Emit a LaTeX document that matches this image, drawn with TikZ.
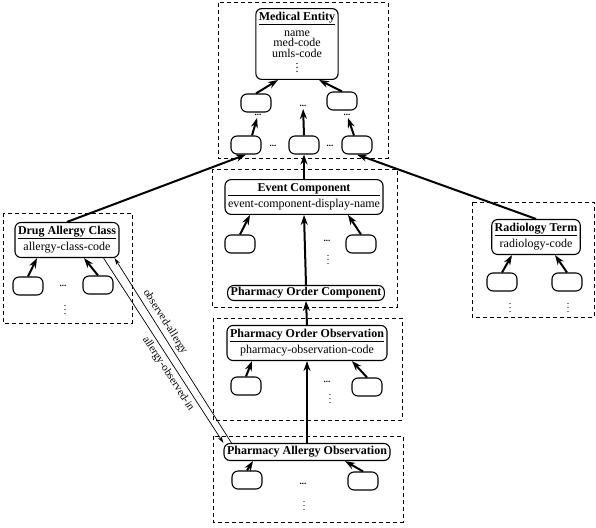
\documentclass[tikz,border=0pt]{standalone}
\usepackage{fontspec}
\setmainfont{Liberation Serif}
\usetikzlibrary{arrows.meta}
\newcommand{\clsbox}[2]{\begin{tabular}{@{}c@{}}\textbf{#1}\rule[-4pt]{0pt}{12pt}\\\hline\rule{0pt}{12pt}#2\end{tabular}}
\begin{document}
\begin{tikzpicture}[x=1pt, y=-1pt,
  cls/.style = {draw, rounded corners=6pt, line width=1.1pt, inner xsep=3pt, inner ysep=3.5pt, font=\fontsize{12}{11}\selectfont},
  leaf/.style = {draw, rounded corners=6pt, line width=1.1pt, minimum width=30pt, minimum height=18pt, inner sep=0pt},
  dots/.style = {inner sep=2pt, font=\bfseries\fontsize{9}{9}\selectfont},
  vdt/.style = {inner sep=0pt, font=\fontsize{10}{10}\selectfont},
  grp/.style = {draw, line width=1pt, dash pattern=on 4pt off 3pt},
  isa/.style = {-{Stealth[length=10pt,width=7pt]}, line width=2pt},
  rel/.style = {-{Stealth[length=7pt,width=4pt]}, line width=0.7pt}]
\useasboundingbox (0,0) rectangle (596,527);

% groups
\draw[grp] (218,3) rectangle (388,158);
\draw[grp] (212,169) rectangle (397,307);
\draw[grp] (3,213) rectangle (132,323);
\draw[grp] (472,202) rectangle (594,317);
\draw[grp] (213,318) rectangle (402,420);
\draw[grp] (213,436) rectangle (403,522);

% medical entity
\node[cls] (me) at (297,44) {\clsbox{Medical Entity}{name\\[-1.5pt]med-code\\[-1.5pt]umls-code\\[-3pt]$\vdots$}};
\node[leaf] (a1) at (256,103) {};
\node[leaf] (a2) at (342,101) {};
\node[leaf] (b1) at (246,145) {};
\node[leaf] (b2) at (304,145) {};
\node[leaf] (b3) at (357,145) {};
\node[dots] (d1) at (303,106) {...};
\node[dots] (d2) at (258,115) {...};
\node[dots] (d3) at (347,115) {...};
\node[dots] (d4) at (273,146) {...};
\node[dots] (d5) at (330,146) {...};
\draw[isa] (a1.north) -- ([xshift=-19pt]me.south);
\draw[isa] (a2.north) -- ([xshift=22pt]me.south);
\draw[isa] ([xshift=6pt]b1.north) -- (d2);
\draw[isa] (b2.north) -- (d1);
\draw[isa] ([xshift=-3pt]b3.north) -- (d3);

% event component
\node[cls] (ec) at (304,197) {\clsbox{Event Component}{event-component-display-name}};
\node[leaf] (e1) at (240,244) {};
\node[leaf] (e2) at (361,244) {};
\node[dots] (d6) at (327,241) {...};
\node[vdt] (v6) at (328,257) {$\vdots$};
\node[cls, font=\fontsize{12}{11}\selectfont\bfseries, inner ysep=2pt] (poc) at (306,293) {Pharmacy Order Component};
\draw[isa] (e1.north) -- ([xshift=-54pt]ec.south);
\draw[isa] (e2.north) -- ([xshift=44pt]ec.south);
\draw[isa] (poc.north) -- (ec.south);
\draw[isa] (ec.north) -- (b2.south);

% drug allergy class
\node[cls] (dac) at (67,240) {\clsbox{Drug Allergy Class}{allergy-class-code}};
\node[leaf] (c1) at (28,286) {};
\node[leaf] (c2) at (98,285) {};
\node[dots] (d7) at (63,286) {...};
\node[vdt] (v7) at (65,307) {$\vdots$};
\draw[isa] (c1.north) -- ([xshift=-30pt]dac.south);
\draw[isa] (c2.north) -- ([xshift=17pt]dac.south);
\draw[isa] (dac.north) -- (b1.south);

% radiology term
\node[cls] (rt) at (536,237) {\clsbox{Radiology Term}{radiology-code}};
\node[leaf] (r1) at (502,282) {};
\node[leaf] (r2) at (567,282) {};
\node[vdt] (v8) at (510,305) {$\vdots$};
\node[vdt] (v9) at (568,305) {$\vdots$};
\draw[isa] (r1.north) -- ([xshift=-24pt]rt.south);
\draw[isa] (r2.north) -- ([xshift=19pt]rt.south);
\draw[isa] (rt.north) -- (b3.south);

% pharmacy order observation
\node[cls] (poo) at (307,343) {\clsbox{Pharmacy Order Observation}{pharmacy-observation-code}};
\node[leaf] (o1) at (246,386) {};
\node[leaf] (o2) at (367,387) {};
\node[dots] (d10) at (327,382) {...};
\node[vdt] (v10) at (330,396) {$\vdots$};
\draw[isa] (o1.north) -- ([xshift=-55pt]poo.south);
\draw[isa] (o2.north) -- ([xshift=45pt]poo.south);
\draw[isa] (poo.north) -- (poc.south);

% pharmacy allergy observation
\node[cls, font=\fontsize{12}{11}\selectfont\bfseries, inner ysep=3pt] (pao) at (307,452) {Pharmacy Allergy Observation};
\node[leaf] (p1) at (247,480) {};
\node[leaf] (p2) at (363,481) {};
\node[dots] (d11) at (303,484) {...};
\node[vdt] (v11) at (304,503) {$\vdots$};
\draw[isa] (p1.north) -- ([xshift=-54pt]pao.south);
\draw[isa] (p2.north) -- ([xshift=38pt]pao.south);
\draw[isa] (pao.north) -- (poo.south);

% relations
\draw[rel] ([xshift=-16pt]dac.south east) -- node[sloped, below, pos=0.6, font=\fontsize{11}{11}\selectfont] {allergy-observed-in} (pao.north west);
\draw[rel] ([xshift=8pt]pao.north west) -- node[sloped, above, pos=0.63, font=\fontsize{11}{11}\selectfont] {observed-allergy} ([xshift=-5pt]dac.south east);
\end{tikzpicture}
\end{document}
